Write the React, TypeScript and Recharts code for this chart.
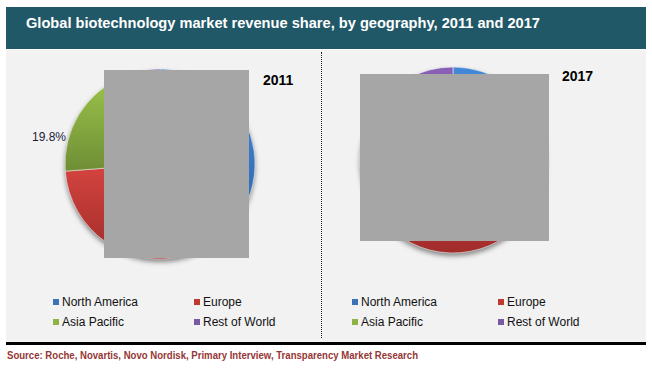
import { PieChart, Pie, Cell, Legend } from "recharts";

const REGIONS = ["North America", "Europe", "Asia Pacific", "Rest of World"];
const SHARE_2011 = [45.5, 28.3, 19.8, 6.4];
const SHARE_2017 = [40.0, 28.0, 24.0, 8.0];

const GRAD_TOP = ["#4388d6", "#d5443f", "#9cc44b", "#8a60b6"];
const GRAD_BOTTOM = ["#2d63a8", "#a02c2a", "#6f8e35", "#6a4a95"];
const MARKER = ["#3d72b8", "#c0392f", "#8fb244", "#7a58a3"];

const FONT = '"Liberation Sans", Arial, sans-serif';

type Row = { name: string; value: number };

const toRows = (values: number[]): Row[] =>
  REGIONS.map((name, i) => ({ name, value: values[i] }));

function makeLabel(outsideIndex: number | null) {
  return (props: any) => {
    const { cx, cy, midAngle, outerRadius, index, value } = props;
    const text = `${Number(value).toFixed(1)}%`;
    if (index === outsideIndex) {
      return (
        <text
          x={cx - outerRadius + 1}
          y={cy - 27}
          textAnchor="end"
          dominantBaseline="central"
          fill="#1c1c3a"
          fontSize={12}
          fontFamily={FONT}
        >
          {text}
        </text>
      );
    }
    const rad = Math.PI / 180;
    const r = outerRadius * 0.6;
    return (
      <text
        x={cx + r * Math.cos(-midAngle * rad)}
        y={cy + r * Math.sin(-midAngle * rad)}
        textAnchor="middle"
        dominantBaseline="central"
        fill="#1c1c3a"
        fontSize={12}
        fontFamily={FONT}
      >
        {text}
      </text>
    );
  };
}

function LegendGrid({ x1, x2 }: { x1: number; x2: number }) {
  return (
    <div style={{ position: "relative", height: 40, fontFamily: FONT, fontSize: 12, color: "#111" }}>
      {REGIONS.map((name, i) => (
        <div
          key={name}
          style={{
            position: "absolute",
            left: i % 2 === 0 ? x1 : x2,
            top: Math.floor(i / 2) * 20,
            height: 20,
            display: "flex",
            alignItems: "center",
            whiteSpace: "nowrap",
          }}
        >
          <span style={{ width: 6, height: 6, background: MARKER[i], marginRight: 3, display: "inline-block" }} />
          {name}
        </div>
      ))}
    </div>
  );
}

function YearPie({
  id,
  values,
  width,
  cx,
  cy,
  r,
  outsideIndex,
  legendX1,
  legendX2,
}: {
  id: string;
  values: number[];
  width: number;
  cx: number;
  cy: number;
  r: number;
  outsideIndex: number | null;
  legendX1: number;
  legendX2: number;
}) {
  const rows = toRows(values);
  return (
    <PieChart width={width} height={292} margin={{ top: 0, right: 0, bottom: 0, left: 0 }}>
      <defs>
        {REGIONS.map((_, i) => (
          <linearGradient key={i} id={`${id}-g${i}`} x1="0" y1="0" x2="0" y2="1">
            <stop offset="0%" stopColor={GRAD_TOP[i]} />
            <stop offset="100%" stopColor={GRAD_BOTTOM[i]} />
          </linearGradient>
        ))}
        <filter id={`${id}-blur`} x="-20%" y="-20%" width="140%" height="140%">
          <feGaussianBlur stdDeviation="2.5" />
        </filter>
      </defs>
      <Pie
        data={[{ name: "shadow", value: 1 }]}
        dataKey="value"
        cx={cx}
        cy={cy + 3}
        outerRadius={r}
        stroke="none"
        isAnimationActive={false}
        legendType="none"
      >
        <Cell fill="rgba(0,0,0,0.45)" filter={`url(#${id}-blur)`} />
      </Pie>
      <Pie
        data={rows}
        dataKey="value"
        nameKey="name"
        cx={cx}
        cy={cy}
        outerRadius={r}
        startAngle={90}
        endAngle={-270}
        stroke="#ffffff"
        strokeWidth={0.5}
        label={makeLabel(outsideIndex)}
        labelLine={false}
        isAnimationActive={false}
      >
        {rows.map((row, i) => (
          <Cell key={row.name} fill={`url(#${id}-g${i})`} />
        ))}
      </Pie>
      <Legend
        content={() => <LegendGrid x1={legendX1} x2={legendX2} />}
        wrapperStyle={{ position: "absolute", left: 0, top: 242, width, height: 40 }}
      />
    </PieChart>
  );
}

export default function App() {
  return (
    <div
      style={{
        position: "absolute",
        left: 0,
        top: 0,
        width: 652,
        height: 373,
        background: "#ffffff",
        fontFamily: FONT,
        overflow: "hidden",
      }}
    >
      <div style={{ position: "absolute", left: 6, top: 7, width: 640, height: 42, background: "#215868" }} />
      <div style={{ position: "absolute", left: 6, top: 50, width: 640, height: 292, background: "#f2f2f2" }} />
      <div style={{ position: "absolute", left: 6, top: 342, width: 640, height: 3, background: "#000000" }} />
      <div style={{ position: "absolute", left: 321, top: 52, width: 0, height: 286, borderLeft: "1px dotted #222" }} />

      <div style={{ position: "absolute", left: 6, top: 50 }}>
        <YearPie
          id="y2011"
          values={SHARE_2011}
          width={315}
          cx={154}
          cy={114}
          r={95}
          outsideIndex={2}
          legendX1={47}
          legendX2={188}
        />
      </div>
      <div style={{ position: "absolute", left: 322, top: 50 }}>
        <YearPie
          id="y2017"
          values={SHARE_2017}
          width={324}
          cx={131}
          cy={110}
          r={93}
          outsideIndex={null}
          legendX1={30}
          legendX2={176}
        />
      </div>

      <div style={{ position: "absolute", left: 104, top: 70, width: 145, height: 188, background: "#a6a6a6" }} />
      <div style={{ position: "absolute", left: 360, top: 74, width: 189, height: 167, background: "#a6a6a6" }} />

      <svg width={652} height={373} style={{ position: "absolute", left: 0, top: 0, pointerEvents: "none" }}>
        <text
          x={26}
          y={28}
          fill="#ffffff"
          fontSize={15}
          fontWeight="bold"
          fontFamily={FONT}
          textLength={514}
          lengthAdjust="spacingAndGlyphs"
        >
          Global biotechnology market revenue share, by geography, 2011 and 2017
        </text>
        <text x={263} y={85} fill="#000" fontSize={14} fontWeight="bold" fontFamily={FONT}>
          2011
        </text>
        <text x={562} y={81} fill="#000" fontSize={14} fontWeight="bold" fontFamily={FONT}>
          2017
        </text>
        <text
          x={7}
          y={359}
          fill="#953735"
          fontSize={10}
          fontWeight="bold"
          fontFamily={FONT}
          textLength={411}
          lengthAdjust="spacingAndGlyphs"
        >
          Source: Roche, Novartis, Novo Nordisk, Primary Interview, Transparency Market Research
        </text>
      </svg>
    </div>
  );
}
